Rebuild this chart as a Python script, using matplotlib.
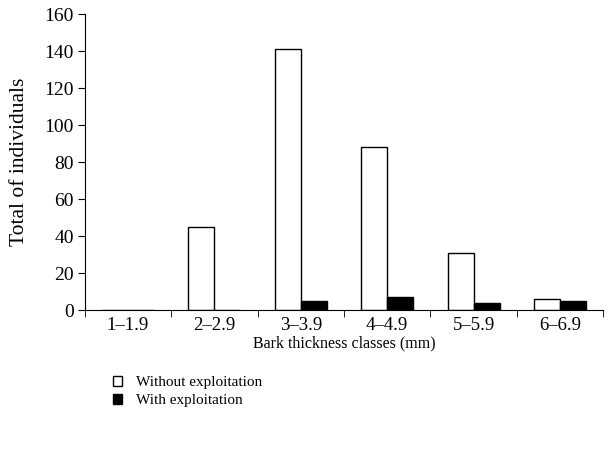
import matplotlib
matplotlib.use("Agg")
import matplotlib.pyplot as plt
import numpy as np

categories = ["1\u20131.9", "2\u20132.9", "3\u20133.9", "4\u20134.9", "5\u20135.9", "6\u20136.9"]
without_exploitation = [0, 45, 141, 88, 31, 6]
with_exploitation = [0, 0, 5, 7, 4, 5]
y_ticks = [0, 20, 40, 60, 80, 100, 120, 140, 160]

plt.rcParams['font.family'] = ['Liberation Serif', 'DejaVu Serif']
plt.rcParams['font.size'] = 11

fig = plt.figure(figsize=(6.1, 4.54), dpi=100)
ax = fig.add_axes([0.139, 0.317, 0.85, 0.652])

x = np.arange(len(categories))
w = 0.3
b1 = ax.bar(x - w / 2, without_exploitation, w, color="white", edgecolor="black", linewidth=1)
b2 = ax.bar(x + w / 2, with_exploitation, w, color="black", edgecolor="black", linewidth=1)

ax.set_xlim(-0.5, len(categories) - 0.5)
ax.set_ylim(0, 160)
ax.set_yticks(y_ticks)
ax.set_xticks(x)
ax.set_xticklabels(categories)
# category separators as ticks on the axis
ax.set_xticks(np.arange(-0.5, len(categories)), minor=True)
ax.tick_params(axis="x", which="major", length=0, pad=5, labelsize=13.5)
ax.tick_params(axis="x", which="minor", length=5, direction="out")
ax.tick_params(axis="y", length=5, direction="out", labelsize=14, pad=3)

for s in ["top", "right"]:
    ax.spines[s].set_visible(False)

ax.set_xlabel("Bark thickness classes (mm)", fontsize=11.5, labelpad=1)
ax.set_ylabel("Total of individuals", fontsize=15.5, labelpad=11)

fig.legend([b1, b2], ["Without exploitation", "With exploitation"],
           loc="upper left", bbox_to_anchor=(0.175, 0.185), frameon=False,
           handlelength=0.6, handleheight=0.6, handletextpad=0.9,
           labelspacing=0.3, borderaxespad=0)

fig.savefig("out.png", dpi=100)
